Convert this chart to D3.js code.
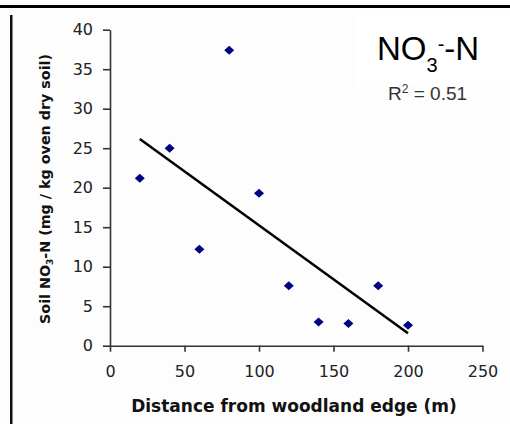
<!DOCTYPE html>
<html>
<head>
<meta charset="utf-8">
<script src="https://cdn.jsdelivr.net/npm/d3@7"></script>
<style>
  html, body { margin: 0; padding: 0; background: #fdfdfd; }
  svg { display: block; }
</style>
</head>
<body>
<svg id="chart" width="510" height="424"></svg>
<script>
// Distance from woodland edge (m) and soil nitrate-N (mg / kg oven dry soil)
const distances = [20, 40, 60, 80, 100, 120, 140, 160, 180, 200];
const nitrate   = [21.2, 25.0, 12.2, 37.4, 19.3, 7.6, 3.0, 2.8, 7.6, 2.6];
const xTicks = [0, 50, 100, 150, 200, 250];
const yTicks = [0, 5, 10, 15, 20, 25, 30, 35, 40];
const xTitle = "Distance from woodland edge (m)";

const svg = d3.select("#chart");

// frame rules
svg.append("rect").attr("x", 0).attr("y", 5).attr("width", 510).attr("height", 3).attr("fill", "#000");
svg.append("rect").attr("x", 10).attr("y", 15).attr("width", 2.5).attr("height", 409).attr("fill", "#111");

// label box behind the title
svg.append("rect").attr("x", 357).attr("y", 16).attr("width", 153).attr("height", 70).attr("fill", "#ffffff");

const x = d3.scaleLinear().domain([0, 250]).range([110, 482.5]);
const y = d3.scaleLinear().domain([0, 40]).range([345.7, 29.7]);

const tickFont = "'DejaVu Sans', Verdana, sans-serif";

const yAxis = svg.append("g")
  .attr("transform", `translate(${x(0)},0)`)
  .call(d3.axisLeft(y).tickValues(yTicks).tickSize(7).tickSizeOuter(0).tickPadding(10));
const xAxis = svg.append("g")
  .attr("transform", `translate(0,${y(0)})`)
  .call(d3.axisBottom(x).tickValues(xTicks).tickSize(6).tickSizeOuter(0).tickPadding(14));

[yAxis, xAxis].forEach(g => {
  g.select(".domain").attr("stroke", "#333").attr("stroke-width", 1.6);
  g.selectAll(".tick line").attr("stroke", "#333").attr("stroke-width", 1.6);
  g.selectAll(".tick text")
    .attr("fill", "#222")
    .style("font-family", tickFont)
    .style("font-size", "16px");
});

// least-squares fit drawn over the sampled distance range
const n = distances.length;
const mx = d3.mean(distances), my = d3.mean(nitrate);
let sxy = 0, sxx = 0, syy = 0;
for (let i = 0; i < n; i++) {
  sxy += (distances[i] - mx) * (nitrate[i] - my);
  sxx += (distances[i] - mx) ** 2;
  syy += (nitrate[i] - my) ** 2;
}
const slope = sxy / sxx, intercept = my - slope * mx;
const r2 = (sxy * sxy) / (sxx * syy);
const xr = d3.extent(distances);
svg.append("path")
  .attr("d", d3.line().x(d => x(d)).y(d => y(intercept + slope * d))(xr))
  .attr("stroke", "#000").attr("stroke-width", 2.5).attr("fill", "none");

// diamond markers
svg.append("g").selectAll("path")
  .data(distances.map((d, i) => [d, nitrate[i]]))
  .join("path")
  .attr("transform", d => `translate(${x(d[0])},${y(d[1])})`)
  .attr("d", "M0,-4.5L5,0L0,4.5L-5,0Z")
  .attr("fill", "#000080");

// axis titles
svg.append("text")
  .attr("x", 294).attr("y", 412)
  .attr("text-anchor", "middle")
  .style("font-family", tickFont).style("font-weight", "bold").style("font-size", "17px")
  .attr("fill", "#111")
  .text(xTitle);

const yt = svg.append("text")
  .attr("transform", "translate(50,189) rotate(-90)")
  .attr("text-anchor", "middle")
  .style("font-family", tickFont).style("font-weight", "bold").style("font-size", "14.3px")
  .attr("fill", "#111");
yt.append("tspan").text("Soil NO");
yt.append("tspan").attr("dy", 3).style("font-size", "9px").text("3");
yt.append("tspan").attr("dy", -3).text("-N (mg / kg oven dry soil)");

// series label and fit statistic
const title = svg.append("text")
  .attr("x", 377).attr("y", 60)
  .style("font-family", "'Liberation Sans', Arial, sans-serif")
  .style("font-size", "33px").attr("fill", "#000");
title.append("tspan").text("NO");
title.append("tspan").attr("dy", 12).style("font-size", "20px").text("3");
title.append("tspan").attr("dy", -21).style("font-size", "20px").text("-");
title.append("tspan").attr("dy", 9).text("-N");

const rt = svg.append("text")
  .attr("x", 388).attr("y", 100)
  .style("font-family", "'Liberation Sans', Arial, sans-serif")
  .style("font-size", "19px").attr("fill", "#333");
rt.append("tspan").text("R");
rt.append("tspan").attr("dy", -7).style("font-size", "12px").text("2");
rt.append("tspan").attr("dy", 7).text(" = " + r2.toFixed(2));
</script>
</body>
</html>
